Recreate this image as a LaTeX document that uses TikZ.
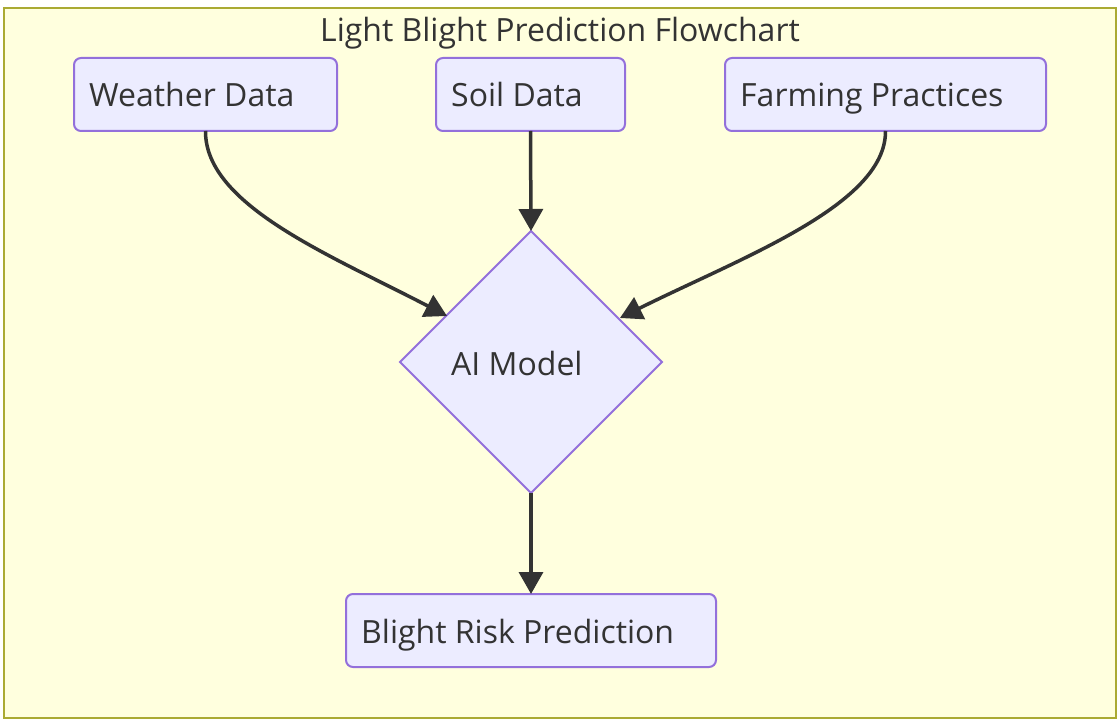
\documentclass[tikz,border=0pt]{standalone}
\usepackage{fontspec}
\setmainfont{Open Sans}
\usetikzlibrary{shapes.geometric,arrows.meta}
\definecolor{nodefill}{HTML}{ECECFF}
\definecolor{nodeline}{HTML}{9370DB}
\definecolor{bgfill}{HTML}{FFFFDE}
\definecolor{bgline}{HTML}{AAAA33}
\definecolor{txt}{HTML}{333333}
\tikzset{
  procbox/.style={draw=nodeline, fill=nodefill, line width=2pt, rounded corners=7pt},
  lbl/.style={anchor=base west, text=txt, inner sep=0pt, font=\fontsize{32}{38}\selectfont},
  conn/.style={draw=txt, line width=3.5pt, -{Triangle[length=22pt,width=24pt]}},
}
\begin{document}
\begin{tikzpicture}[x=1pt,y=-1pt]
\useasboundingbox (0,0) rectangle (1120,722);
\draw[fill=bgfill, draw=bgline, line width=2pt] (4,8) rectangle (1116,718);
\node[text=txt, inner sep=0pt, anchor=base, font=\fontsize{32}{38}\selectfont] (title) at (560,42) {Light Blight Prediction Flowchart};
% boxes
\draw[procbox] (74,58) rectangle (337,131);
\coordinate (wS) at (205.5,131);
\node[lbl] (weather) at (89,107) {Weather Data};
\draw[procbox] (436,58) rectangle (625,131);
\coordinate (sS) at (530.5,131);
\node[lbl] (soil) at (451,107) {Soil Data};
\draw[procbox] (725,58) rectangle (1046,131);
\coordinate (fS) at (885.5,131);
\node[lbl] (farm) at (740,107) {Farming Practices};
\draw[procbox] (346,594) rectangle (716,667);
\coordinate (bN) at (531,594);
\node[lbl] (blight) at (361,643) {Blight Risk Prediction};
% diamond
\draw[draw=nodeline, fill=nodefill, line width=2pt] (531,231) -- (662,362) -- (531,493) -- (400,362) -- cycle;
\coordinate (dN) at (531,231);
\coordinate (dS) at (531,493);
\coordinate (dL) at (447,316);
\coordinate (dR) at (620,318);
\node[lbl] (ai) at (451,375) {AI Model};
% connectors
\draw[conn] (wS) .. controls (205,205) and (330,255) .. (dL);
\draw[conn] (sS) -- (dN);
\draw[conn] (fS) .. controls (886,205) and (740,258) .. (dR);
\draw[conn] (dS) -- (bN);
\end{tikzpicture}
\end{document}
